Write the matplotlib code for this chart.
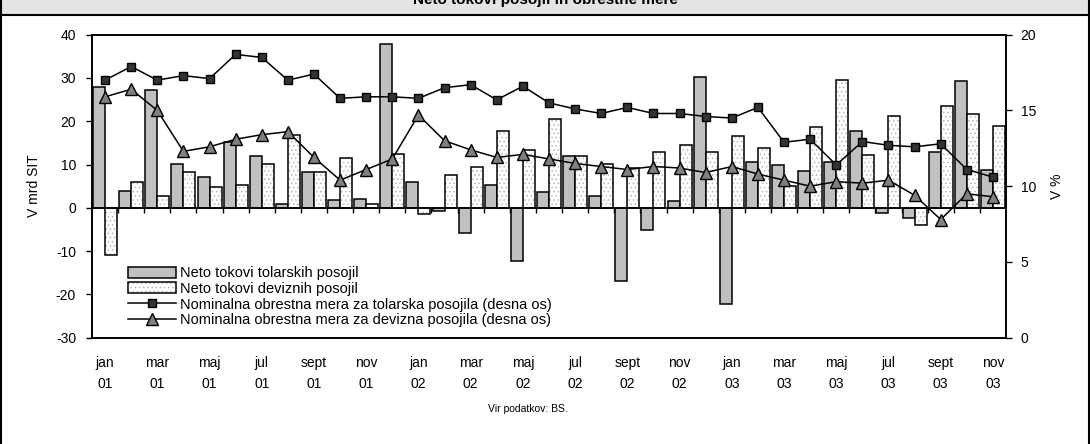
import numpy as np
import matplotlib
matplotlib.use('Agg')
import matplotlib.pyplot as plt
from matplotlib.patches import Patch, Rectangle
from matplotlib.lines import Line2D

plt.rcParams['font.family'] = ['Liberation Sans', 'DejaVu Sans']
plt.rcParams['hatch.linewidth'] = 0.6
plt.rcParams['axes.unicode_minus'] = False

# months jan 01 .. nov 03
month_names = ['jan', 'feb', 'mar', 'apr', 'maj', 'jun', 'jul', 'avg', 'sept', 'okt', 'nov', 'dec']
years = ['01', '02', '03']
n_months = 35

# neto tokovi (V mrd SIT)
tolar_flows = [27.9, 4.0, 27.2, 10.2, 7.1, 15.2, 11.9, 0.9, 8.3, 1.7, 2.1, 37.9,
               5.9, -0.8, -5.9, 5.2, -12.2, 3.6, 11.9, 2.7, -16.9, -5.2, 1.5, 30.2,
               -22.2, 10.7, 10.0, 8.6, 10.7, 17.8, -1.1, -2.4, 13.0, 29.2, 8.8]
fx_flows = [-11.0, 5.9, 2.7, 8.3, 4.8, 5.2, 10.2, 16.9, 8.3, 11.4, 0.9, 12.5,
            -1.5, 7.5, 9.5, 17.7, 13.3, 20.5, 11.9, 10.2, 9.2, 12.9, 14.6, 12.9,
            16.5, 13.9, 5.0, 18.6, 29.5, 12.2, 21.2, -3.9, 23.5, 21.6, 18.8]

# nominalne obrestne mere (V %)
tolar_rate = [17.0, 17.9, 17.0, 17.3, 17.1, 18.7, 18.5, 17.0, 17.4, 15.8, 15.9, 15.9,
              15.8, 16.5, 16.7, 15.7, 16.6, 15.5, 15.1, 14.8, 15.2, 14.8, 14.8, 14.6,
              14.5, 15.2, 12.9, 13.1, 11.4, 12.95, 12.7, 12.6, 12.8, 11.1, 10.6]
fx_rate = [15.9, 16.4, 15.0, 12.3, 12.6, 13.1, 13.4, 13.6, 11.9, 10.4, 11.1, 11.8,
           14.7, 13.0, 12.4, 11.9, 12.1, 11.8, 11.5, 11.3, 11.1, 11.3, 11.2, 10.9,
           11.3, 10.8, 10.4, 10.0, 10.3, 10.2, 10.4, 9.4, 7.8, 9.5, 9.3]

labels = ['Neto tokovi tolarskih posojil',
          'Neto tokovi deviznih posojil',
          'Nominalna obrestna mera za tolarska posojila (desna os)',
          'Nominalna obrestna mera za devizna posojila (desna os)']

x = np.arange(n_months)
tick_labels = []
for i in range(n_months):
    tick_labels.append(month_names[i % 12] + '\n' + years[i // 12])

fig = plt.figure(figsize=(10.9, 4.44), dpi=100)
ax = fig.add_axes([92 / 1090, 1 - 337.7 / 444, 914 / 1090, 303 / 444])

w = 0.46
ax.bar(x - w / 2, tolar_flows, w, color='#c0c0c0', edgecolor='black', linewidth=1.1, zorder=2)
ax.bar(x + w / 2, fx_flows, w, color='white', edgecolor='#b8b8b8', linewidth=0, hatch='....', zorder=2)
ax.bar(x + w / 2, fx_flows, w, fill=False, edgecolor='black', linewidth=1.1, zorder=3)

ax.axhline(0, color='black', lw=1.2, zorder=4)
ax.vlines(x[:-1] + 0.5, -1.3, 0, color='black', lw=1.0, zorder=4)

ax.set_xlim(-0.5, n_months - 0.5)
ax.set_ylim(-30, 40)
ax.set_yticks(range(-30, 41, 10))
ax.set_xticks(x[::2])
ax.set_xticklabels(tick_labels[::2], fontsize=10, linespacing=1.6)
ax.tick_params(axis='x', length=0, pad=13.5)
ax.tick_params(axis='y', direction='out', length=4.5, width=1, labelsize=10, pad=7)
for s in ax.spines.values():
    s.set_linewidth(1.2)

ax2 = ax.twinx()
ax2.plot(x, tolar_rate, color='black', lw=1.1, marker='s', markersize=6,
         markerfacecolor='#333333', markeredgecolor='black', zorder=5)
ax2.plot(x, fx_rate, color='black', lw=1.1, marker='^', markersize=8,
         markerfacecolor='#808080', markeredgecolor='black', zorder=5)
ax2.set_ylim(0, 20)
ax2.set_yticks([0, 5, 10, 15, 20])
ax2.tick_params(axis='y', direction='out', length=4.5, width=1, labelsize=10, pad=6)
for s in ax2.spines.values():
    s.set_linewidth(1.2)

h_gray = Patch(facecolor='#c0c0c0', edgecolor='black', linewidth=1.1)
h_fx = (Patch(facecolor='white', edgecolor='#b8b8b8', linewidth=0, hatch='....'),
        Patch(fill=False, edgecolor='black', linewidth=1.1))
h_tol = Line2D([], [], color='black', lw=1.1, marker='s', markersize=6,
               markerfacecolor='#333333', markeredgecolor='black')
h_dev = Line2D([], [], color='black', lw=1.1, marker='^', markersize=8,
               markerfacecolor='#808080', markeredgecolor='black')
leg = ax2.legend([h_gray, h_fx, h_tol, h_dev], labels, loc='upper left',
                 bbox_to_anchor=(0.039, 0.236), frameon=False, fontsize=10.5,
                 handlelength=3.3, handleheight=0.8, handletextpad=0.3,
                 labelspacing=0.12, borderpad=0, borderaxespad=0)

fig.text(34 / 1090, 1 - 186 / 444, 'V mrd SIT', rotation=90, ha='center', va='center', fontsize=10)
fig.text(1057 / 1090, 1 - 186 / 444, 'V %', rotation=90, ha='center', va='center', fontsize=10)
fig.text(528 / 1090, 1 - 409 / 444, 'Vir podatkov: BS.', ha='center', va='center', fontsize=7.5)

# header band (title cut off at top, as in the source) and frame
band = 15 / 444
fig.add_artist(Rectangle((0, 1 - band), 1, band, transform=fig.transFigure,
                         facecolor='#e4e4e4', edgecolor='none', zorder=0))
fig.text(0.5, 1 - 4 / 444, 'Neto tokovi posojil in obrestne mere', ha='center',
         va='baseline', fontsize=11, fontweight='bold')
fig.add_artist(Line2D([0, 1], [1 - band, 1 - band], transform=fig.transFigure, color='black', lw=1.5))
fig.add_artist(Line2D([0.001, 0.001], [0, 1], transform=fig.transFigure, color='black', lw=1.5))
fig.add_artist(Line2D([0.999, 0.999], [0, 1], transform=fig.transFigure, color='black', lw=1.5))

fig.savefig('out.png', dpi=100)
